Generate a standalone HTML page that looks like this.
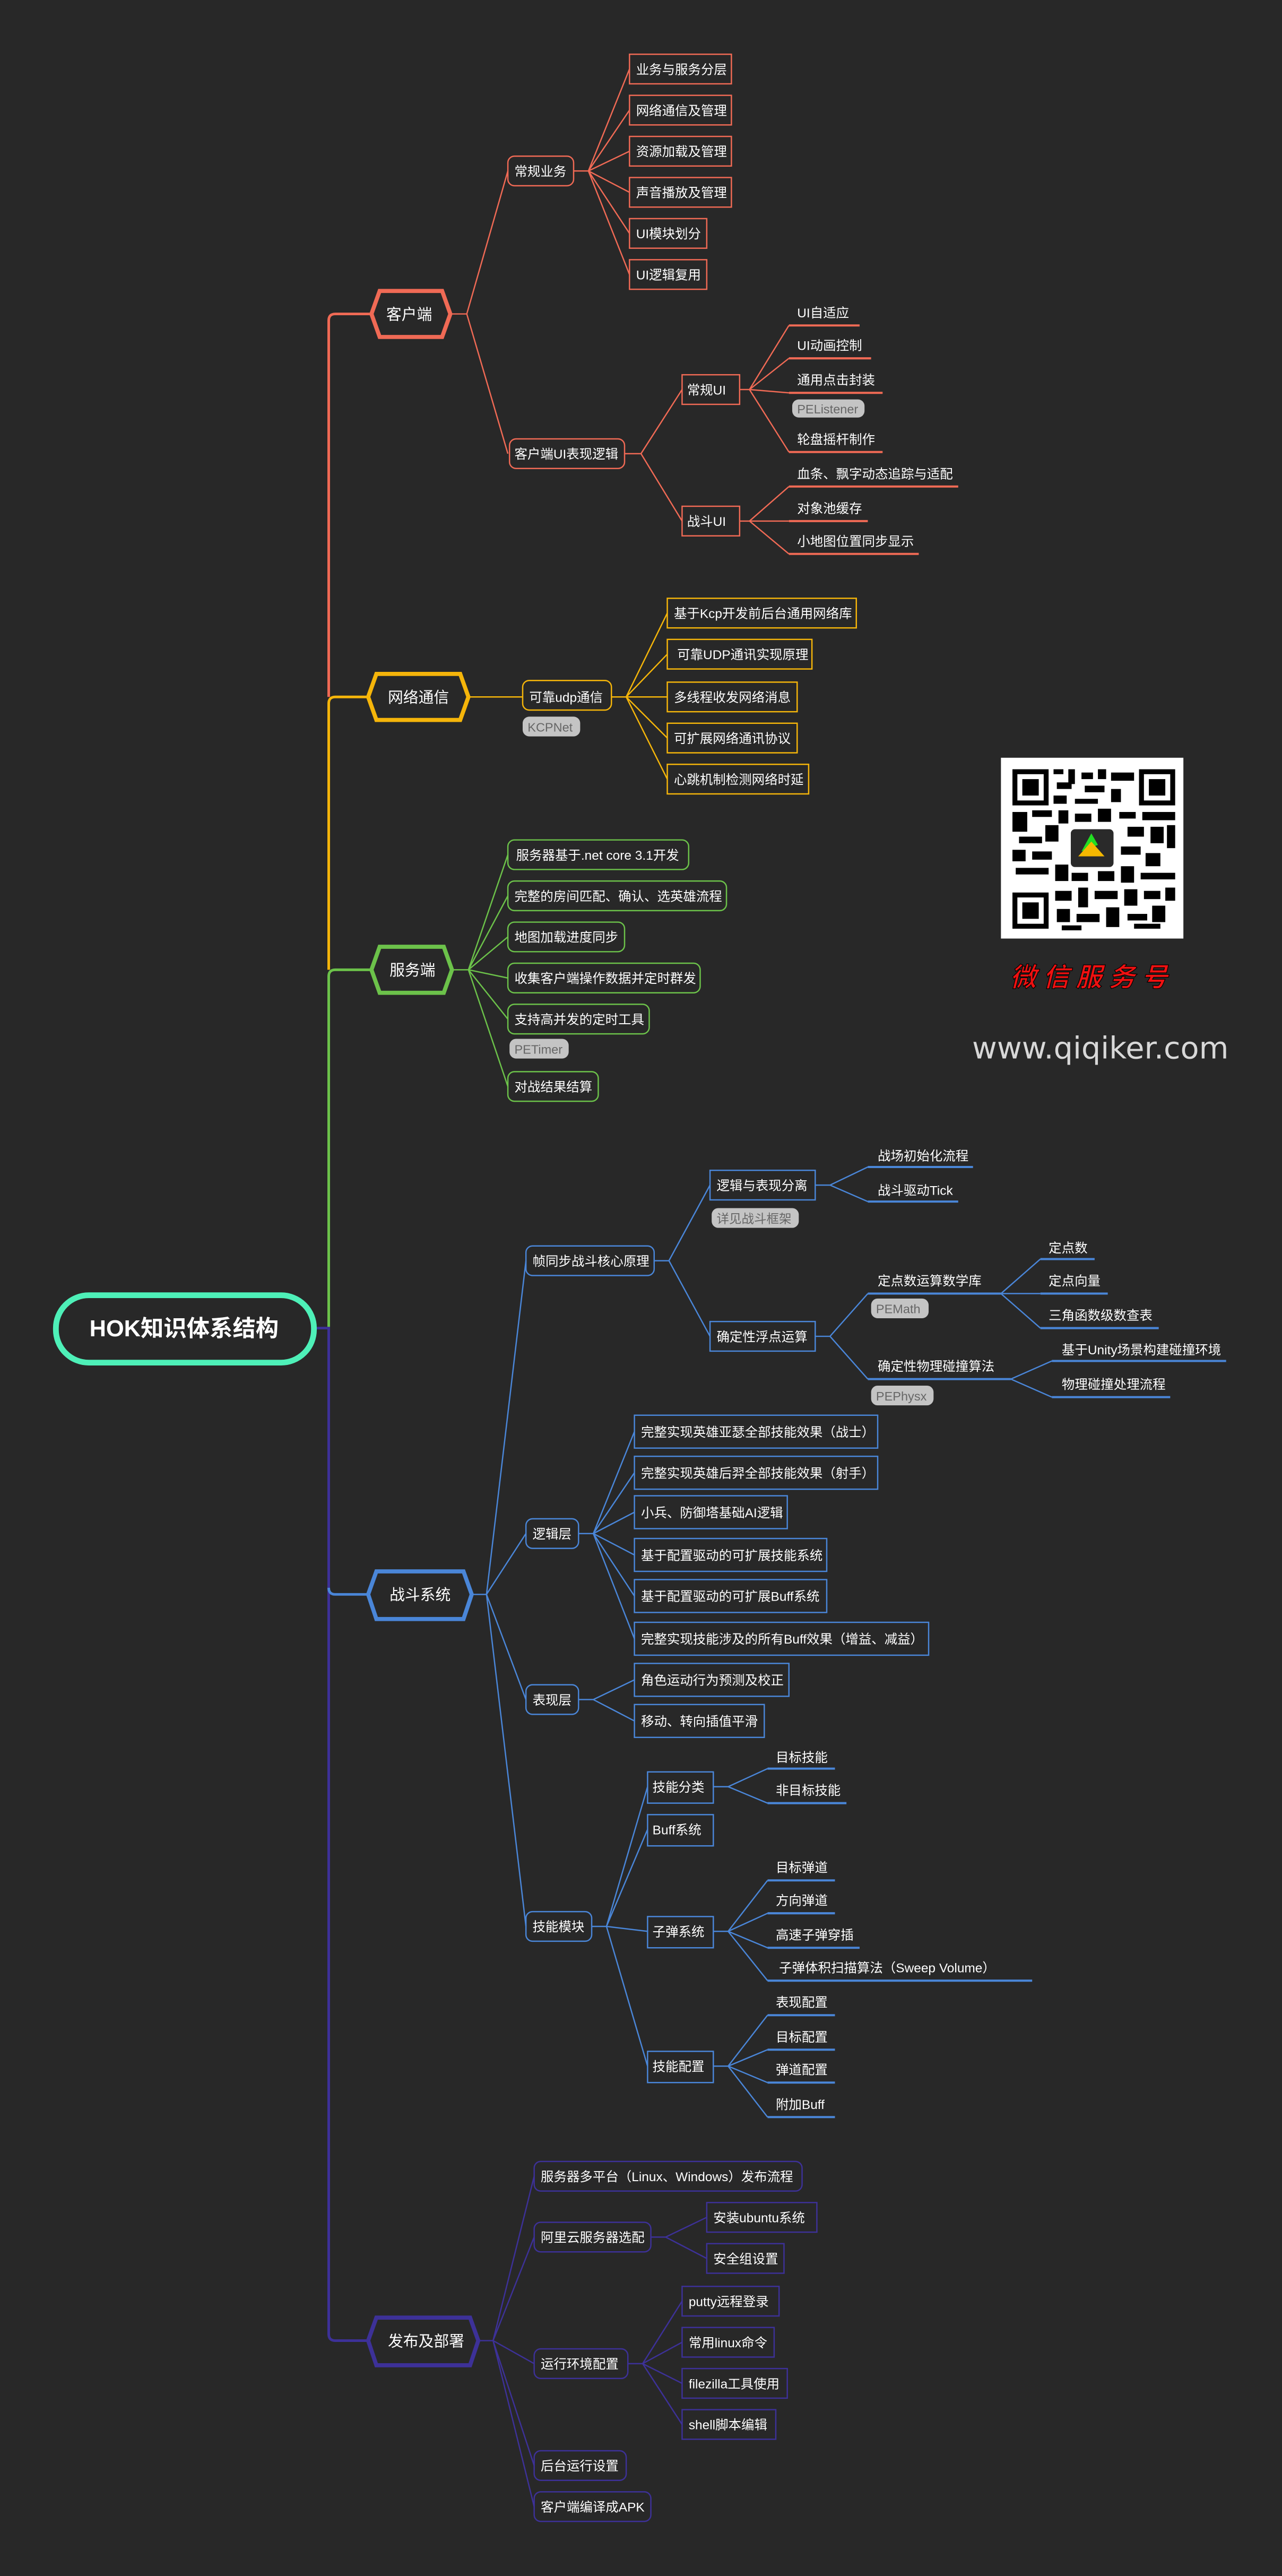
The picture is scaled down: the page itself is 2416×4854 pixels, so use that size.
<!DOCTYPE html>
<html><head><meta charset="utf-8"><style>
html,body{margin:0;padding:0;background:#282828;}
svg{display:block}
text{font-family:"Liberation Sans","Noto Sans CJK SC",sans-serif;fill:#fff;font-size:7.9px}
.pill{fill:#c4c4c4}
.pt{fill:#666;font-size:7.6px}
</style></head><body>
<svg width="2416" height="4854" viewBox="0 0 780 1567.2" preserveAspectRatio="none" xmlns="http://www.w3.org/2000/svg">
<rect width="780" height="1567.2" fill="#282828"/>
<g fill="none" stroke-width="1.6">
<path d="M226 191 H204 Q200 191 200 195 V424" stroke="#f06a55"/>
<path d="M226 424 H204 Q200 424 200 428 V590" stroke="#f5b50a"/>
<path d="M226 590 H204 Q200 590 200 594 V808" stroke="#6cc24a"/>
<path d="M191 808 H200 V1420 Q200 1424 204 1424 H224" stroke="#3d3198"/>
<path d="M200 966 Q200 970 204 970 H224" stroke="#4a86d8"/>
</g>
<rect x="34" y="788" width="157" height="41" rx="20" fill="#282828" stroke="#4ef0b8" stroke-width="3.5"/>
<text x="112" y="813" text-anchor="middle" style="font-size:14px;font-weight:bold">HOK知识体系结构</text>

<g stroke="#f06a55" fill="none" stroke-width="0.8">
<polygon points="226,191 231,177 269,177 274,191 269,205 231,205" stroke-width="2.5" fill="#282828"/>
<path d="M274 191 H284 L309 104 M284 191 L309 276"/>
<rect x="309" y="95" width="40" height="18" rx="4"/>
<path d="M349 104 H358 L383 42 M358 104 L383 67 M358 104 L383 92 M358 104 L383 117 M358 104 L383 142 M358 104 L383 167"/>
<rect x="383" y="33" width="62" height="18"/><rect x="383" y="58" width="62" height="18"/><rect x="383" y="83" width="62" height="18"/><rect x="383" y="108" width="62" height="18"/><rect x="383" y="133" width="47" height="18"/><rect x="383" y="158" width="47" height="18"/>
<rect x="310" y="267" width="70" height="18" rx="4"/>
<path d="M380 276 H390 L415 237 M390 276 L415 317"/>
<rect x="415" y="228" width="35" height="18"/><rect x="415" y="308" width="35" height="18"/>
<path d="M450 237 H456 L480 198 M456 237 L480 218 M456 237 L480 239 M456 237 L480 275 M450 317 H456 L480 296 M456 317 L480 317 M456 317 L480 337"/>
<path stroke-width="1.3" d="M480 198 H523 M480 218 H530 M480 239 H537 M480 275 H537 M480 296 H583 M480 317 H528 M480 337 H559"/>
</g>
<text x="235" y="194.5" style="font-size:9.3px">客户端</text>
<text x="313" y="107">常规业务</text>
<text x="387" y="45">业务与服务分层</text><text x="387" y="70">网络通信及管理</text><text x="387" y="95">资源加载及管理</text><text x="387" y="120">声音播放及管理</text><text x="387" y="145">UI模块划分</text><text x="387" y="170">UI逻辑复用</text>
<text x="313" y="279">客户端UI表现逻辑</text>
<text x="418" y="240">常规UI</text><text x="418" y="320">战斗UI</text>
<text x="485" y="193">UI自适应</text><text x="485" y="213">UI动画控制</text><text x="485" y="234">通用点击封装</text>
<rect class="pill" x="482" y="243" width="44" height="11" rx="4"/><text class="pt" x="485" y="251.5">PEListener</text>
<text x="485" y="270">轮盘摇杆制作</text><text x="485" y="291">血条、飘字动态追踪与适配</text><text x="485" y="312">对象池缓存</text><text x="485" y="332">小地图位置同步显示</text>

<g stroke="#f5b50a" fill="none" stroke-width="0.8">
<polygon points="224,424 229,410 280,410 285,424 280,438 229,438" stroke-width="2.5" fill="#282828"/>
<path d="M285 424 H318"/>
<rect x="318" y="414" width="54" height="18" rx="4"/>
<path d="M372 424 H381 L406 373 M381 424 L406 398 M381 424 L406 424 M381 424 L406 449 M381 424 L406 474"/>
<rect x="406" y="364" width="115" height="18"/><rect x="406" y="389" width="88" height="18"/><rect x="406" y="415" width="79" height="18"/><rect x="406" y="440" width="79" height="18"/><rect x="406" y="465" width="86" height="18"/>
</g>
<text x="236" y="427.5" style="font-size:9.3px">网络通信</text>
<text x="322" y="427">可靠udp通信</text>
<rect class="pill" x="318" y="436" width="35" height="12" rx="4"/><text class="pt" x="321" y="445">KCPNet</text>
<text x="410" y="376">基于Kcp开发前后台通用网络库</text><text x="412" y="401">可靠UDP通讯实现原理</text><text x="410" y="427">多线程收发网络消息</text><text x="410" y="452">可扩展网络通讯协议</text><text x="410" y="477">心跳机制检测网络时延</text>

<g stroke="#6cc24a" fill="none" stroke-width="0.8">
<polygon points="226,590 231,576 270,576 275,590 270,604 231,604" stroke-width="2.5" fill="#282828"/>
<path d="M275 590 H285 L309 520 M285 590 L309 545 M285 590 L309 570 M285 590 L309 595 M285 590 L309 620 M285 590 L309 661"/>
<rect x="309" y="511" width="110" height="18" rx="4"/><rect x="309" y="536" width="133" height="18" rx="4"/><rect x="309" y="561" width="71" height="18" rx="4"/><rect x="309" y="586" width="117" height="18" rx="4"/><rect x="309" y="611" width="86" height="18" rx="4"/><rect x="309" y="652" width="55" height="18" rx="4"/>
</g>
<text x="237" y="593.5" style="font-size:9.3px">服务端</text>
<text x="314" y="523">服务器基于.net core 3.1开发</text><text x="313" y="548">完整的房间匹配、确认、选英雄流程</text><text x="313" y="573">地图加载进度同步</text><text x="313" y="598">收集客户端操作数据并定时群发</text><text x="313" y="623">支持高并发的定时工具</text>
<rect class="pill" x="310" y="632" width="36" height="12" rx="4"/><text class="pt" x="313" y="641">PETimer</text>
<text x="313" y="664">对战结果结算</text>

<g stroke="#4a86d8" fill="none" stroke-width="0.8">
<polygon points="224,970 229,956 282,956 287,970 282,985 229,985" stroke-width="2.5" fill="#282828"/>
<path d="M287 970 H296 L320 767 M296 970 L320 933 M296 970 L320 1034 M296 970 L320 1172"/>
<rect x="320" y="758" width="78" height="18" rx="4"/><rect x="320" y="924" width="32" height="18" rx="4"/><rect x="320" y="1025" width="32" height="18" rx="4"/><rect x="320" y="1163" width="40" height="18" rx="4"/>
<path d="M398 767 H407 L432 721 M407 767 L432 813"/>
<rect x="432" y="712" width="64" height="18"/><rect x="432" y="804" width="64" height="18"/>
<path d="M496 721 H505 L528 710 M505 721 L528 731 M496 813 H505 L528 787 M505 813 L528 839 M609 787 L633 766 M609 787 L633 787 M609 787 L633 808 M615 839 L640 828 M615 839 L640 850"/>
<path stroke-width="1.3" d="M528 710 H592 M528 731 H583 M528 787 H609 M528 839 H615 M633 766 H666 M633 787 H674 M633 808 H705 M640 828 H746 M640 850 H712"/>
<path d="M352 933 H361 L386 871 M361 933 L386 896 M361 933 L386 920 M361 933 L386 946 M361 933 L386 971 M361 933 L386 997"/>
<rect x="386" y="861" width="148" height="20"/><rect x="386" y="886" width="148" height="20"/><rect x="386" y="910" width="93" height="20"/><rect x="386" y="936" width="117" height="20"/><rect x="386" y="961" width="117" height="20"/><rect x="386" y="987" width="179" height="20"/>
<path d="M352 1034 H361 L386 1022 M361 1034 L386 1047"/>
<rect x="386" y="1012" width="94" height="20"/><rect x="386" y="1037" width="79" height="20"/>
<path d="M360 1172 H369 L394 1087 M369 1172 L394 1113 M369 1172 L394 1175 M369 1172 L394 1257"/>
<rect x="394" y="1078" width="40" height="19"/><rect x="394" y="1104" width="40" height="19"/><rect x="394" y="1166" width="40" height="19"/><rect x="394" y="1248" width="40" height="19"/>
<path d="M434 1087 H443 L467 1076 M443 1087 L467 1097 M434 1175 H443 L467 1144 M443 1175 L467 1164 M443 1175 L467 1185 M443 1175 L467 1205 M434 1257 H443 L467 1226 M443 1257 L467 1247 M443 1257 L467 1267 M443 1257 L467 1288"/>
<path stroke-width="1.3" d="M467 1076 H508 M467 1097 H515 M467 1144 H508 M467 1164 H508 M467 1185 H523 M467 1205 H628 M467 1226 H508 M467 1247 H508 M467 1267 H508 M467 1288 H508"/>
</g>
<text x="237" y="973.5" style="font-size:9.3px">战斗系统</text>
<text x="324" y="770">帧同步战斗核心原理</text><text x="324" y="936">逻辑层</text><text x="324" y="1037">表现层</text><text x="324" y="1175">技能模块</text>
<text x="436" y="724">逻辑与表现分离</text>
<rect class="pill" x="433" y="735" width="53" height="12" rx="4"/><text class="pt" x="436" y="744">详见战斗框架</text>
<text x="436" y="816">确定性浮点运算</text>
<text x="534" y="706">战场初始化流程</text><text x="534" y="727">战斗驱动Tick</text>
<text x="534" y="782">定点数运算数学库</text>
<rect class="pill" x="530" y="790" width="35" height="12" rx="4"/><text class="pt" x="533" y="799">PEMath</text>
<text x="534" y="834">确定性物理碰撞算法</text>
<rect class="pill" x="530" y="843" width="38" height="12" rx="4"/><text class="pt" x="533" y="852">PEPhysx</text>
<text x="638" y="762">定点数</text><text x="638" y="782">定点向量</text><text x="638" y="803">三角函数级数查表</text>
<text x="646" y="824">基于Unity场景构建碰撞环境</text><text x="646" y="845">物理碰撞处理流程</text>
<text x="390" y="874">完整实现英雄亚瑟全部技能效果（战士）</text><text x="390" y="899">完整实现英雄后羿全部技能效果（射手）</text><text x="390" y="923">小兵、防御塔基础AI逻辑</text><text x="390" y="949">基于配置驱动的可扩展技能系统</text><text x="390" y="974">基于配置驱动的可扩展Buff系统</text><text x="390" y="1000">完整实现技能涉及的所有Buff效果（增益、减益）</text>
<text x="390" y="1025">角色运动行为预测及校正</text><text x="390" y="1050">移动、转向插值平滑</text>
<text x="397" y="1090">技能分类</text><text x="397" y="1116">Buff系统</text><text x="397" y="1178">子弹系统</text><text x="397" y="1260">技能配置</text>
<text x="472" y="1072">目标技能</text><text x="472" y="1092">非目标技能</text>
<text x="472" y="1139">目标弹道</text><text x="472" y="1159">方向弹道</text><text x="472" y="1180">高速子弹穿插</text><text x="474" y="1200">子弹体积扫描算法（Sweep Volume）</text>
<text x="472" y="1221">表现配置</text><text x="472" y="1242">目标配置</text><text x="472" y="1262">弹道配置</text><text x="472" y="1283">附加Buff</text>

<g stroke="#3d3198" fill="none" stroke-width="0.8">
<polygon points="224,1424 229,1410 286,1410 291,1424 286,1439 229,1439" stroke-width="2.5" fill="#282828"/>
<path d="M291 1424 H300 L325 1324 M300 1424 L325 1361 M300 1424 L325 1438 M300 1424 L325 1500 M300 1424 L325 1525"/>
<rect x="325" y="1315" width="163" height="18" rx="4"/><rect x="325" y="1352" width="71" height="18" rx="4"/><rect x="325" y="1429" width="57" height="18" rx="4"/><rect x="325" y="1491" width="56" height="18" rx="4"/><rect x="325" y="1516" width="71" height="18" rx="4"/>
<path d="M396 1361 H405 L430 1349 M405 1361 L430 1374"/>
<rect x="430" y="1340" width="67" height="18"/><rect x="430" y="1365" width="47" height="18"/>
<path d="M382 1438 H391 L415 1400 M391 1438 L415 1425 M391 1438 L415 1450 M391 1438 L415 1475"/>
<rect x="415" y="1391" width="59" height="18"/><rect x="415" y="1416" width="56" height="18"/><rect x="415" y="1441" width="64" height="18"/><rect x="415" y="1466" width="57" height="18"/>
</g>
<text x="236" y="1427.5" style="font-size:9.3px">发布及部署</text>
<text x="329" y="1327">服务器多平台（Linux、Windows）发布流程</text><text x="329" y="1364">阿里云服务器选配</text><text x="329" y="1441">运行环境配置</text><text x="329" y="1503">后台运行设置</text><text x="329" y="1528">客户端编译成APK</text>
<text x="434" y="1352">安装ubuntu系统</text><text x="434" y="1377">安全组设置</text>
<text x="419" y="1403">putty远程登录</text><text x="419" y="1428">常用linux命令</text><text x="419" y="1453">filezilla工具使用</text><text x="419" y="1478">shell脚本编辑</text>

<rect x="609" y="461" width="111" height="110" fill="#fff"/>
<g fill="#000">
<rect x="616" y="468" width="22" height="22"/><rect x="693" y="468" width="22" height="22"/><rect x="616" y="543" width="22" height="22"/>
</g>
<g fill="#fff"><rect x="619" y="471" width="16" height="16"/><rect x="696" y="471" width="16" height="16"/><rect x="619" y="546" width="16" height="16"/></g>
<g fill="#000"><rect x="622" y="474" width="10" height="10"/><rect x="699" y="474" width="10" height="10"/><rect x="622" y="549" width="10" height="10"/>
<rect x="641" y="468" width="6" height="3"/><rect x="650" y="468" width="4" height="9"/><rect x="658" y="470" width="7" height="4"/><rect x="668" y="468" width="5" height="6"/><rect x="676" y="470" width="14" height="5"/><rect x="643" y="476" width="9" height="4"/><rect x="660" y="478" width="12" height="4"/><rect x="676" y="480" width="6" height="8"/><rect x="641" y="484" width="8" height="5"/><rect x="654" y="486" width="14" height="3"/>
<rect x="616" y="494" width="9" height="12"/><rect x="628" y="493" width="12" height="4"/><rect x="644" y="493" width="6" height="8"/><rect x="654" y="495" width="10" height="5"/><rect x="668" y="492" width="8" height="8"/><rect x="681" y="494" width="10" height="4"/><rect x="695" y="494" width="20" height="5"/>
<rect x="620" y="509" width="14" height="4"/><rect x="636" y="502" width="8" height="10"/><rect x="686" y="503" width="10" height="6"/><rect x="700" y="503" width="8" height="10"/><rect x="710" y="502" width="5" height="14"/>
<rect x="616" y="517" width="8" height="7"/><rect x="628" y="518" width="12" height="5"/><rect x="682" y="515" width="12" height="5"/><rect x="697" y="519" width="9" height="8"/>
<rect x="618" y="528" width="20" height="4"/><rect x="642" y="526" width="8" height="10"/><rect x="652" y="531" width="10" height="5"/><rect x="668" y="530" width="10" height="6"/><rect x="682" y="527" width="8" height="10"/><rect x="694" y="531" width="21" height="4"/>
<rect x="642" y="542" width="10" height="6"/><rect x="656" y="540" width="6" height="12"/><rect x="666" y="542" width="14" height="5"/><rect x="684" y="541" width="8" height="10"/><rect x="696" y="542" width="10" height="5"/><rect x="709" y="540" width="6" height="8"/>
<rect x="643" y="553" width="8" height="8"/><rect x="655" y="556" width="14" height="5"/><rect x="673" y="552" width="8" height="12"/><rect x="686" y="556" width="12" height="4"/><rect x="701" y="551" width="8" height="10"/><rect x="646" y="563" width="12" height="3"/><rect x="690" y="562" width="16" height="3"/>
</g>
<rect x="651" y="504" width="27" height="24" rx="3" fill="#2a2a2a" stroke="#fff" stroke-width="1"/>
<polygon points="664,507 658,518 668,514" fill="#22dd22"/>
<polygon points="656,521 664,512 672,521" fill="#f5b800"/>
<text x="664.5" y="600" text-anchor="middle" style="font-size:16px;font-weight:bold;font-style:italic;fill:#ee1111;letter-spacing:4px;stroke:#000;stroke-width:0.4">微信服务号</text>
<text x="669.5" y="644" text-anchor="middle" style="font-size:18.5px;fill:#d8d8d8;font-family:'DejaVu Sans','Liberation Sans',sans-serif">www.qiqiker.com</text>
</svg>
</body></html>
